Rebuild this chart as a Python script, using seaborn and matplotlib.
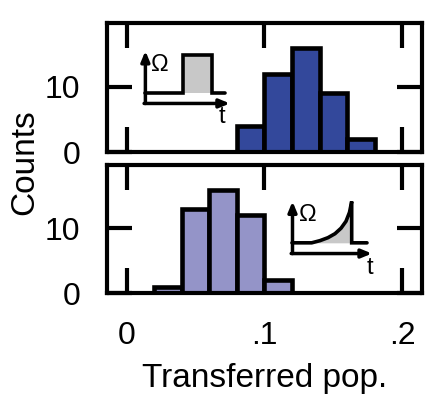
import numpy as np
import matplotlib
matplotlib.use("Agg")
import matplotlib.pyplot as plt
import seaborn as sns

# =========================
# DATA
# =========================
bins_top = [0.08, 0.10, 0.12, 0.14, 0.16, 0.18]
counts_top = [4, 12, 16, 9, 2]

bins_bottom = [0.02, 0.04, 0.06, 0.08, 0.10, 0.12]
counts_bottom = [1, 13, 16, 12, 2]

xticks = [0, 0.1, 0.2]
xticklabels = ["0", ".1", ".2"]
yticks = [0, 10]
yticklabels = ["0", "10"]

# inset sketches (pixel-ish units inside inset box)
square_t = [2, 40, 40, 69, 69, 82]
square_w = [13, 13, 51, 51, 13, 13]
ramp_t = [2, 21.7, 30, 38, 45, 51, 56, 59.5, 61.7, 61.7, 77]
ramp_w = [13.3, 13.3, 15.5, 18.5, 22.5, 28, 35, 44, 55, 13.3, 13.3]

# =========================
# STYLE
# =========================
sns.set_style("white", {"text.color": "black", "xtick.color": "black",
                        "ytick.color": "black", "axes.labelcolor": "black"})
plt.rcParams["font.family"] = ["Liberation Sans", "DejaVu Sans"]
LW = 3.0
FS = 23

fig = plt.figure(figsize=(4.34, 3.94), dpi=100)
ax_top = fig.add_axes([0.2465, 0.6142, 0.7258, 0.3274])
ax_bot = fig.add_axes([0.2465, 0.2563, 0.7258, 0.3249])


def draw_hist(ax, edges, counts, color):
    centers = [(a + b) / 2 for a, b in zip(edges[:-1], edges[1:])]
    sns.histplot(x=centers, weights=counts, bins=edges, ax=ax,
                 color=color, alpha=1, edgecolor="black", linewidth=3.3)
    ax.set_xlim(-0.0145, 0.2145)
    ax.set_ylim(0, 19.8)
    ax.set_xticks(xticks)
    ax.set_yticks(yticks)
    ax.set_yticklabels(yticklabels)
    ax.tick_params(direction="in", length=18, width=LW, top=True, right=True,
                   bottom=True, left=True, labelsize=FS, colors="black")
    ax.tick_params(axis="y", pad=19)
    ax.tick_params(axis="x", pad=20)
    for s in ax.spines.values():
        s.set_linewidth(LW)
        s.set_color("black")
    ax.set_xlabel("")
    ax.set_ylabel("")


draw_hist(ax_top, bins_top, counts_top, "#33489b")
draw_hist(ax_bot, bins_bottom, counts_bottom, "#9494c8")

ax_top.set_xticklabels([])
ax_bot.set_xticklabels(xticklabels)
fig.text(0.609, 0.017, "Transferred pop.", fontsize=24, ha="center", va="baseline")
fig.text(0.0576, 0.589, "Counts", rotation=90, fontsize=24, ha="center", va="center")


def draw_inset(ax, box, tt, ww, fill_lo, fill_hi, omega_xy, t_xy):
    ins = ax.inset_axes(box)
    ins.set_xlim(0, box[2] * 315)
    ins.set_ylim(0, box[3] * 129)
    ins.axis("off")
    arrow = dict(arrowstyle="-|>,head_length=0.6,head_width=0.25", lw=2.5,
                 color="black", shrinkA=0, shrinkB=0)
    ins.annotate("", xy=(2.5, 55), xytext=(2.5, 2.5), arrowprops=arrow,
                 annotation_clip=False)
    ins.annotate("", xy=(box[2] * 315, 2.5), xytext=(1.2, 2.5), arrowprops=arrow,
                 annotation_clip=False)
    tt = np.array(tt)
    ww = np.array(ww)
    sel = (tt >= fill_lo) & (tt <= fill_hi)
    ins.fill_between(tt[sel], ww[0], ww[sel], color="#c8c8c8", lw=0)
    ins.plot(tt, ww, color="black", lw=2.6, solid_joinstyle="miter", clip_on=False)
    ins.text(*omega_xy, "Ω", fontsize=17, ha="left", va="center")
    ins.text(*t_xy, "t", fontsize=17, ha="center", va="center")


draw_inset(ax_top, [0.114, 0.357, 0.276, 0.42], square_t, square_w, 40, 69,
           (8, 41), (79, -11))
draw_inset(ax_bot, [0.581, 0.289, 0.26, 0.455], ramp_t, ramp_w,
           21.7, 61.6, (9, 41), (80, -12))

fig.savefig("out.png", dpi=100)
